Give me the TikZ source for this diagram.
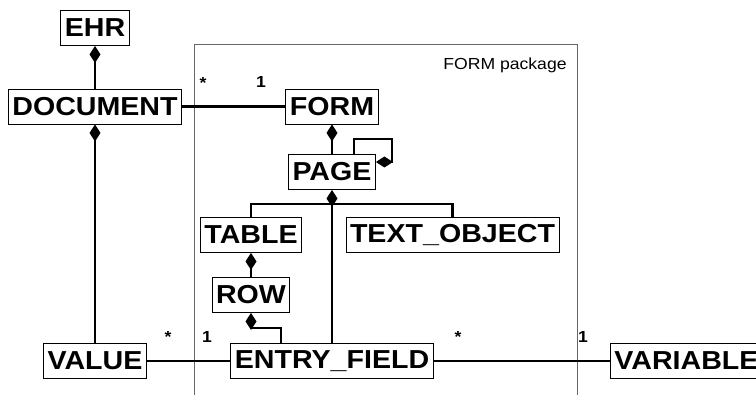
\documentclass[tikz,border=0pt]{standalone}
\usepackage{fontspec}
\newfontfamily\umlfont[FakeStretch=1.1]{Liberation Sans}
\usetikzlibrary{arrows.meta}
\usetikzlibrary{calc}

\begin{document}
\begin{tikzpicture}[x=1pt,y=-1pt,
		cls/.style={draw,line width=0.9pt,fill=white,minimum height=35pt,inner xsep=4pt,inner ysep=0pt,
			font=\umlfont\bfseries\fontsize{26}{26}\selectfont},
		link/.style={line width=2.8pt},
		comp/.style={link,{Diamond[length=17pt,width=11pt]}-},
		mult/.style={font=\umlfont\bfseries\fontsize{16}{16}\selectfont,inner sep=0pt}]
		\useasboundingbox (0,0) rectangle (756,395);

		% package frame
		\draw[gray!80!black,line width=0.8pt] (194,397) |- (577,44) -- (577,397);
		\node[font=\umlfont\fontsize{16}{16}\selectfont] (pkg) at (505,65) {FORM package};

		\node[cls] (ehr) at (95,28) {EHR};
		\node[cls] (document) at (95,106.5) {DOCUMENT};
		\node[cls] (form) at (332,106.5) {FORM};
		\node[cls] (page) at (332,172) {PAGE};
		\node[cls] (table) at (251,235) {TABLE};
		\node[cls] (textobj) at (452.5,235) {TEXT\_OBJECT};
		\node[cls] (row) at (251,295) {ROW};
		\node[cls] (entry) at (332,361) {ENTRY\_FIELD};
		\node[cls] (value) at (95,361) {VALUE};
		\node[cls,anchor=west] (variable) at (610,361) {VARIABLE};

		\coordinate (split) at (332,204);
		\coordinate (loop) at (392,139);

		% compositions
		\draw[comp] (ehr.south) -- (document.north);
		\draw[comp] (document.south) -- (value.north);
		\draw[comp] (form.south) -- (page.north);
		\draw[comp] ([yshift=10pt]page.east) -| (loop) -| ([xshift=22pt]page.north);
		\draw[comp] (page.south) -- (split);
		\draw[link] (split) -| (table.north);
		\draw[link] (split) -| (textobj.north);
		\draw[link] (split) -- (entry.north);
		\draw[comp] (table.south) -- (row.north);
		\draw[comp] (row.south) -- ++(0,15) -| ([xshift=-51pt]entry.north);

		% associations
		\draw[link] (document.east) -- (form.west);
		\draw[link] (value.east) -- (entry.west);
		\draw[link] (entry.east) -- (variable.west);

		\node[mult] (docmany) at (203,83) {*};
		\node[mult] (formone) at (261,82) {1};
		\node[mult] (valmany) at (168,337) {*};
		\node[mult] (entone) at (207,337) {1};
		\node[mult] (entmany) at (458,337) {*};
		\node[mult] (varone) at (583,337) {1};
	\end{tikzpicture}
\end{document}
